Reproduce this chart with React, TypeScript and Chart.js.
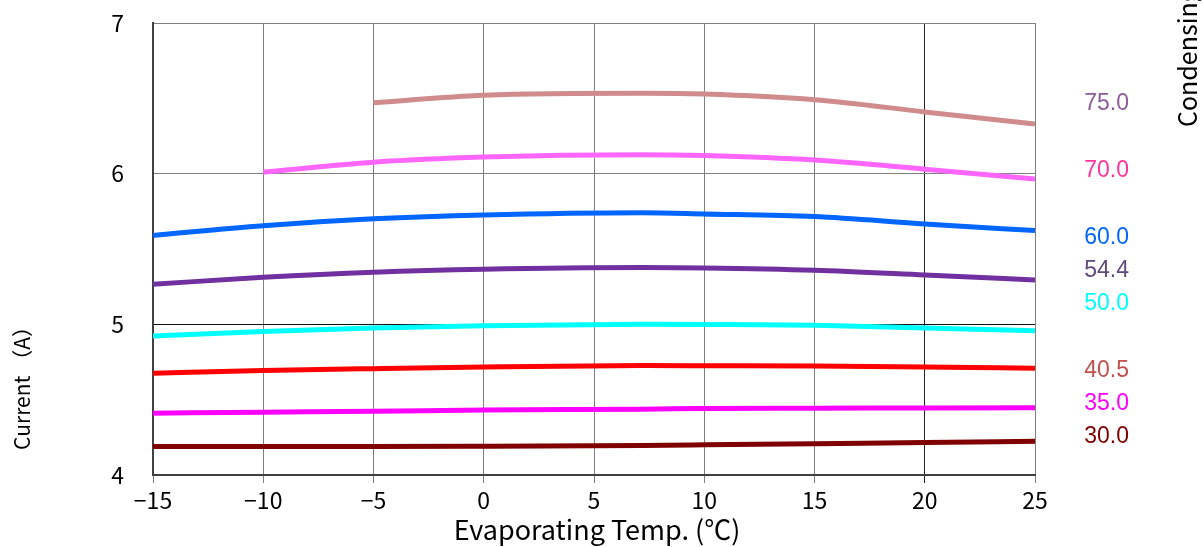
import React, { useEffect, useRef } from "react";
import { Chart, registerables } from "chart.js";

Chart.register(...registerables);

// Evaporating temperature (°C)
const evapTemps = [-15, -10, -5, 0, 7.2, 10, 15, 20, 25];

// Current (A) per condensing temperature; null = no data
const cond75 = [null, null, 6.47, 6.52, 6.533, 6.528, 6.49, 6.41, 6.33];
const cond70 = [null, 6.01, 6.076, 6.11, 6.126, 6.12, 6.09, 6.03, 5.965];
const cond60 = [5.59, 5.655, 5.70, 5.726, 5.741, 5.733, 5.715, 5.666, 5.622];
const cond544 = [5.266, 5.312, 5.346, 5.366, 5.377, 5.374, 5.359, 5.328, 5.295];
const cond50 = [4.923, 4.952, 4.976, 4.991, 5.0, 4.999, 4.994, 4.976, 4.958];
const cond405 = [4.675, 4.693, 4.706, 4.717, 4.726, 4.725, 4.723, 4.717, 4.709];
const cond35 = [4.41, 4.417, 4.423, 4.432, 4.437, 4.441, 4.443, 4.445, 4.447];
const cond30 = [4.189, 4.189, 4.189, 4.191, 4.196, 4.2, 4.208, 4.215, 4.224];

const seriesNames = ["75.0", "70.0", "60.0", "54.4", "50.0", "40.5", "35.0", "30.0"];
const seriesValues = [cond75, cond70, cond60, cond544, cond50, cond405, cond35, cond30];
const lineColors = ["#d08c8c", "#ff66ff", "#0066ff", "#7030a0", "#00ffff", "#ff0000", "#ff00ff", "#800000"];
const labelColors = ["#8e5a9a", "#ff3399", "#0066ff", "#604a7b", "#00ffff", "#c0504d", "#ff00ff", "#800000"];
// label rows in the right-hand text box (blank rows between some)
const labelRows = [0, 2, 4, 5, 6, 8, 9, 10];

const yTicks = [4, 5, 6, 7];
const xTitle = "Evaporating Temp. (\u2103)";
const yTitle = "Current \uFF08A\uFF09";
const rightTitle = "Condensing Temp. (\u2103)";

const tickFont = "'Noto Sans CJK JP', sans-serif";
const cjkFont = "'Noto Sans CJK JP', sans-serif";

const textPlugin = {
  id: "texts",
  afterDraw(chart: any) {
    const { ctx, chartArea } = chart;
    ctx.save();
    // right-hand value labels
    ctx.font = "23px 'Liberation Sans', Arial, sans-serif";
    ctx.textAlign = "right";
    ctx.textBaseline = "middle";
    seriesNames.forEach((n, i) => {
      ctx.fillStyle = labelColors[i];
      ctx.fillText(n, chartArea.right + 94, chartArea.top + 81 + labelRows[i] * 33.3);
    });
    // x title
    ctx.fillStyle = "#000";
    ctx.font = "27px " + tickFont;
    ctx.textAlign = "center";
    ctx.textBaseline = "middle";
    ctx.fillText(xTitle, (chartArea.left + chartArea.right) / 2 + 3, 530);
    // y title
    ctx.save();
    ctx.translate(22, 383);
    ctx.rotate(-Math.PI / 2);
    ctx.font = "21px " + cjkFont;
    ctx.textAlign = "center";
    ctx.textBaseline = "middle";
    ctx.fillText(yTitle, 0, 0);
    ctx.restore();
    // right title (rotated, clipped by top)
    ctx.save();
    ctx.translate(1187, 127);
    ctx.rotate(-Math.PI / 2);
    ctx.font = "25px " + cjkFont;
    ctx.textAlign = "left";
    ctx.textBaseline = "middle";
    ctx.fillText(rightTitle, 0, 0);
    ctx.restore();
    ctx.restore();
  },
};

export default function App() {
  const ref = useRef<HTMLCanvasElement>(null);
  useEffect(() => {
    document.body.style.margin = "0";
    const datasets = seriesValues.map((vals, i) => ({
      label: seriesNames[i],
      data: evapTemps
        .map((x, j) => ({ x, y: vals[j] }))
        .filter((p) => p.y !== null),
      borderColor: lineColors[i],
      backgroundColor: lineColors[i],
      borderWidth: 5,
      pointRadius: 0,
      cubicInterpolationMode: "monotone" as const,
      fill: false,
    }));
    const chart = new Chart(ref.current!, {
      type: "line",
      data: { datasets },
      plugins: [textPlugin],
      options: {
        animation: false,
        responsive: true,
        maintainAspectRatio: false,
        layout: { padding: { left: 0, top: 23, right: 168, bottom: 0 } },
        plugins: { legend: { display: false }, tooltip: { enabled: false } },
        scales: {
          x: {
            type: "linear",
            min: -15,
            max: 25,
            afterFit: (s: any) => {
              s.height = 72;
            },
            ticks: {
              stepSize: 5,
              color: "#000",
              padding: 3,
              font: { family: tickFont, size: 23 },
              maxRotation: 0,
              callback: (v: any) => String(v).replace("-", "\u2212"),
            },
            grid: {
              color: (c: any) => (c.tick && c.tick.value === 20 ? "#222" : "#808080"),
              lineWidth: 1,
              drawTicks: true,
              tickLength: 8,
            },
            border: { color: "#404040", width: 2 },
          },
          y: {
            type: "linear",
            min: 4,
            max: 7,
            afterFit: (s: any) => {
              s.width = 153;
            },
            afterBuildTicks: (s: any) => {
              s.ticks = yTicks.map((v) => ({ value: v }));
            },
            ticks: {
              color: "#000",
              padding: 0,
              font: { family: tickFont, size: 23 },
            },
            grid: {
              color: (c: any) => (c.tick && c.tick.value === 5 ? "#111" : "#808080"),
              lineWidth: 1,
              drawTicks: true,
              tickLength: 29,
              tickColor: "rgba(0,0,0,0)",
            },
            border: { color: "#404040", width: 2 },
          },
        },
      },
    });
    return () => chart.destroy();
  }, []);
  return (
    <div style={{ position: "fixed", left: 0, top: 0, width: 1203, height: 547, background: "#fff" }}>
      <canvas ref={ref} />
    </div>
  );
}
